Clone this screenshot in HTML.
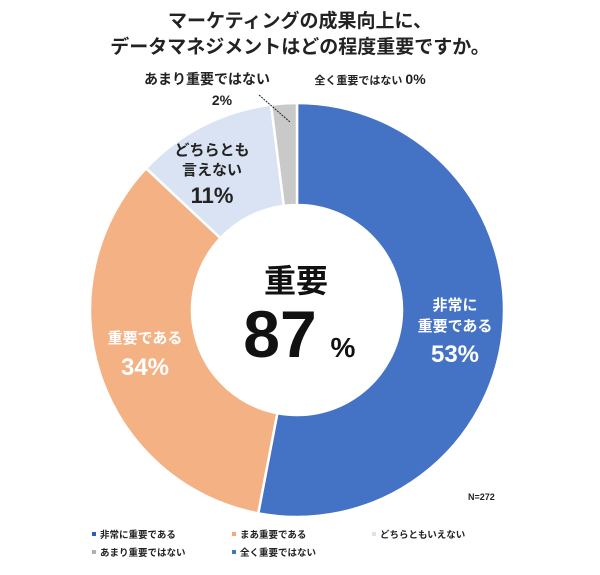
<!DOCTYPE html>
<html><head><meta charset="utf-8"><style>
body{margin:0;background:#fff;width:600px;height:570px;overflow:hidden;font-family:"Liberation Sans","Noto Sans CJK JP",sans-serif;}
svg text{font-family:"Liberation Sans","Noto Sans CJK JP",sans-serif;font-weight:bold;}
</style></head><body>
<svg id="c" width="600" height="570">
<text x="300" y="27" text-anchor="middle" font-size="19" fill="#222">マーケティングの成果向上に、</text>
<text x="300" y="53" text-anchor="middle" font-size="19" fill="#222">データマネジメントはどの程度重要ですか。</text>
<g id="slices"></g>
<line x1="259" y1="95" x2="290" y2="122" stroke="#222" stroke-width="1" stroke-dasharray="2,1"/>
<text x="296" y="292" text-anchor="middle" font-size="32" fill="#111">重要</text>
<text x="280" y="357" text-anchor="middle" font-size="66" fill="#111">87</text>
<text x="343" y="357" text-anchor="middle" font-size="28" fill="#111">%</text>
<text x="455" y="310" text-anchor="middle" font-size="15" fill="#fff">非常に</text>
<text x="455" y="331" text-anchor="middle" font-size="15" fill="#fff">重要である</text>
<text x="455" y="362" text-anchor="middle" font-size="24" fill="#fff">53%</text>
<text x="145" y="343" text-anchor="middle" font-size="15" fill="#fff">重要である</text>
<text x="145" y="375" text-anchor="middle" font-size="24" fill="#fff">34%</text>
<text x="212" y="155" text-anchor="middle" font-size="15" fill="#222">どちらとも</text>
<text x="212" y="175" text-anchor="middle" font-size="15" fill="#222">言えない</text>
<text x="212" y="203" text-anchor="middle" font-size="22" fill="#222">11%</text>
<text x="207" y="84" text-anchor="middle" font-size="14" fill="#222">あまり重要ではない</text>
<text x="222" y="105" text-anchor="middle" font-size="14" fill="#222">2%</text>
<text x="370" y="84" text-anchor="middle" font-size="11" fill="#222">全く重要ではない <tspan font-size="14">0%</tspan></text>
<text x="468" y="500" font-size="9" fill="#222" font-weight="normal">N=272</text>
<g id="legend"></g>
</svg>
<script>
const categories=["非常に重要である","まあ重要である","どちらともいえない","あまり重要ではない","全く重要ではない"];
const values=[53,34,11,2,0];
const colors=["#4472C4","#F4B183","#DAE3F3","#C9C9C9","#5B9BD5"];
const legendColors=["#2E5FB5","#F4A97A","#DAE3F3","#B0B0B0","#3E78B8"];
const NS="http://www.w3.org/2000/svg";
const cx=297,cy=310,R=207,r=105;
const total=values.reduce((a,b)=>a+b,0);
function pt(a,rad){return [cx+rad*Math.sin(a),cy-rad*Math.cos(a)];}
let ang=0;
const g=document.getElementById('slices');
values.forEach((v,i)=>{
  if(v<=0)return;
  const a0=ang,a1=ang+v/total*2*Math.PI;ang=a1;
  const large=(a1-a0)>Math.PI?1:0;
  const p0=pt(a0,R),p1=pt(a1,R),q1=pt(a1,r),q0=pt(a0,r);
  const p=document.createElementNS(NS,'path');
  p.setAttribute('d',`M${p0[0]},${p0[1]}A${R},${R} 0 ${large} 1 ${p1[0]},${p1[1]}L${q1[0]},${q1[1]}A${r},${r} 0 ${large} 0 ${q0[0]},${q0[1]}Z`);
  p.setAttribute('fill',colors[i]);p.setAttribute('stroke','#fff');p.setAttribute('stroke-width','2.5');
  
  
  g.appendChild(p);
});
const lg=document.getElementById('legend');
const lx=[100,240,380,100,240],ly=[538,538,538,556,556];
categories.forEach((c,i)=>{
  const s=document.createElementNS(NS,'rect');
  s.setAttribute('x',lx[i]-8);s.setAttribute('y',ly[i]-6);s.setAttribute('width',4);s.setAttribute('height',4);s.setAttribute('fill',legendColors[i]);
  
  
  lg.appendChild(s);
  const t=document.createElementNS(NS,'text');
  t.setAttribute('x',lx[i]);t.setAttribute('y',ly[i]);t.setAttribute('font-size','9.5');t.setAttribute('fill','#222');
  t.textContent=c;
  
  
  lg.appendChild(t);
});
</script>
</body></html>
